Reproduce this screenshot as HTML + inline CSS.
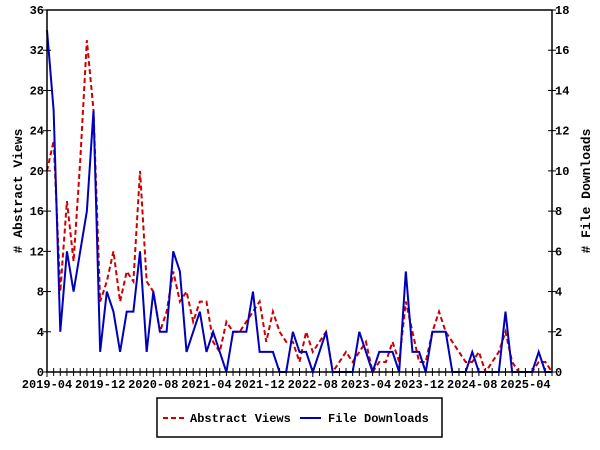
<!DOCTYPE html>
<html><head><meta charset="utf-8"><style>
body{margin:0;background:#fff;}
svg{display:block;font-family:"Liberation Mono","DejaVu Sans Mono",monospace;font-weight:bold;font-size:12px;}
</style></head><body>
<svg id="chart" width="600" height="450">
<rect x="0" y="0" width="600" height="450" fill="#fff"/>
<g id="grid"></g>
<g id="series"></g>
<rect x="47" y="10" width="505" height="362" fill="none" stroke="#000" stroke-width="1.5"/>
<text x="22" y="191" transform="rotate(-90 22 191)" text-anchor="middle" font-size="13"># Abstract Views</text>
<text x="590" y="191" transform="rotate(-90 590 191)" text-anchor="middle" font-size="13"># File Downloads</text>
<g>
<rect x="157" y="398" width="285" height="39" fill="#fff" stroke="#000" stroke-width="1.5"/>
<line x1="163" y1="418" x2="184" y2="418" stroke="#cc0000" stroke-width="2" stroke-dasharray="5,3"/>
<text x="190" y="422">Abstract Views</text>
<line x1="300" y1="418" x2="321" y2="418" stroke="#0000bb" stroke-width="2"/>
<text x="328" y="422">File Downloads</text>
</g>
</svg>
<script>
const views = [20,23,8,17,11,21,33,26,7,9,12,7,10,9,20,9,8,4,6,10,7,8,5,7,7,3,2,5,4,4,5,6,7,3,6,4,3,3,1,4,2,3,4,0,1,2,1,2,3,0,1,1,3,1,7,4,1,1,4,6,4,3,2,1,1,2,0,1,2,4,1,0,0,0,1,1,0];
const downloads = [17,13,2,6,4,6,8,13,1,4,3,1,3,3,6,1,4,2,2,6,5,1,2,3,1,2,1,0,2,2,2,4,1,1,1,0,0,2,1,1,0,1,2,0,0,0,0,2,1,0,1,1,1,0,5,1,1,0,2,2,2,0,0,0,1,0,0,0,0,3,0,0,0,0,1,0,0];
const leftTicks = [0,4,8,12,16,20,24,28,32,36];
const rightTicks = [0,2,4,6,8,10,12,14,16,18];
const xLabels = ["2019-04","2019-12","2020-08","2021-04","2021-12","2022-08","2023-04","2023-12","2024-08","2025-04"];
const monthsPerLabel = 8;

const X0=47, X1=552, Y0=372, Y1=10;
const nPts = views.length;
const xS = i => X0 + (X1-X0)*i/(nPts-1);
const yL = v => Y0 - (Y0-Y1)*v/36;
const yR = v => Y0 - (Y0-Y1)*v/18;
const NS="http://www.w3.org/2000/svg";
const grid=document.getElementById('grid'), ser=document.getElementById('series');
function mk(t,a,p){const e=document.createElementNS(NS,t);for(const k in a)e.setAttribute(k,a[k]);p.appendChild(e);return e;}

for(let i=0;i<nPts;i++){
  const major = i%monthsPerLabel===0;
  const t=mk('line',{x1:xS(i),x2:xS(i),y1:Y0-4,y2:Y0+(major?5:4),stroke:'#000','stroke-width':1},grid);
  
  
}
xLabels.forEach((l,k)=>{
  const t=mk('text',{x:xS(k*monthsPerLabel),y:388,'text-anchor':'middle'},grid);
  t.textContent=l;
  
  
});
leftTicks.forEach(v=>{
  const l=mk('line',{x1:X0-4,x2:X0+4,y1:yL(v),y2:yL(v),stroke:'#000'},grid);
  
  
  const t=mk('text',{x:X0-3,y:yL(v)+4,'text-anchor':'end'},grid);
  t.textContent=v;
  
  
});
rightTicks.forEach(v=>{
  const l=mk('line',{x1:X1-4,x2:X1+4,y1:yR(v),y2:yR(v),stroke:'#000'},grid);
  
  
  const t=mk('text',{x:X1+3,y:yR(v)+4,'text-anchor':'start'},grid);
  t.textContent=v;
  
  
});
const pv=mk('polyline',{points:views.map((v,i)=>xS(i)+','+yL(v)).join(' '),fill:'none',stroke:'#cc0000','stroke-width':2,'stroke-dasharray':'5,3'},ser);


const pd=mk('polyline',{points:downloads.map((v,i)=>xS(i)+','+yR(v)).join(' '),fill:'none',stroke:'#0000bb','stroke-width':2},ser);


</script>
</body></html>
